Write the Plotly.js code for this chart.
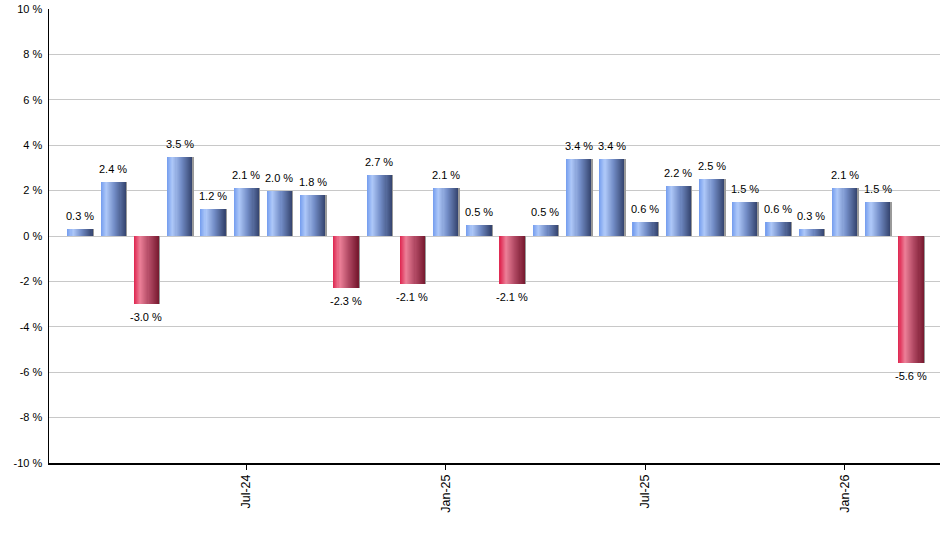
<!DOCTYPE html>
<html>
<head>
<meta charset="utf-8">
<script src="https://cdn.plot.ly/plotly-3.0.1.min.js"></script>
<style>
  html, body { margin: 0; padding: 0; background: #fff; }
  #chart { width: 940px; height: 550px; }
</style>
</head>
<body>
<div id="chart"></div>
<script>
// Monthly returns, Feb-24 .. Mar-26
const months = ['Feb-24', 'Mar-24', 'Apr-24', 'May-24', 'Jun-24', 'Jul-24', 'Aug-24', 'Sep-24', 'Oct-24',
    'Nov-24', 'Dec-24', 'Jan-25', 'Feb-25', 'Mar-25', 'Apr-25', 'May-25', 'Jun-25', 'Jul-25', 'Aug-25',
    'Sep-25', 'Oct-25', 'Nov-25', 'Dec-25', 'Jan-26', 'Feb-26', 'Mar-26'];
const returns = [0.3, 2.4, -3.0, 3.5, 1.2, 2.1, 2.0, 1.8, -2.3, 2.7, -2.1, 2.1, 0.5, -2.1,
    0.5, 3.4, 3.4, 0.6, 2.2, 2.5, 1.5, 0.6, 0.3, 2.1, 1.5, -5.6];
const tickMonths = ['Jul-24', 'Jan-25', 'Jul-25', 'Jan-26'];
const yTicks = [-10, -8, -6, -4, -2, 0, 2, 4, 6, 8, 10];

// Gradient stops across a bar (left -> right), for up and down months
const upStops = [[0, [116, 156, 238]], [0.22, [174, 200, 248]], [0.55, [116, 142, 200]], [1, [52, 68, 110]]];
const downStops = [[0, [222, 36, 78]], [0.25, [236, 128, 152]], [0.6, [178, 74, 100]], [1, [118, 24, 46]]];

function lerpColor(stops, t) {
    for (let i = 1; i < stops.length; i++) {
        if (t <= stops[i][0]) {
            const [t0, c0] = stops[i - 1];
            const [t1, c1] = stops[i];
            const f = (t - t0) / (t1 - t0);
            const c = c0.map((v, k) => Math.round(v + (c1[k] - v) * f));
            return `rgb(${c[0]},${c[1]},${c[2]})`;
        }
    }
    const c = stops[stops.length - 1][1];
    return `rgb(${c[0]},${c[1]},${c[2]})`;
}

const x = months.map((_, i) => i);
const barWidth = 0.76;
const slices = 24;
const sliceW = barWidth / slices;
const traces = [];

// right-hand shadow edge (drawn first, bars paint over it)
traces.push({
    type: 'bar',
    x: x,
    y: returns,
    offset: barWidth / 2 - 0.02,
    width: 0.06,
    marker: {color: '#9a9a9a', line: {width: 0}},
    hoverinfo: 'skip',
    showlegend: false
});

// Each bar is built from thin vertical slices so it gets the shaded look
for (let s = 0; s < slices; s++) {
    const t = (s + 0.5) / slices;
    const last = s === slices - 1;
    traces.push({
        type: 'bar',
        x: x,
        y: returns,
        offset: -barWidth / 2 + s * sliceW,
        width: last ? sliceW : sliceW * 1.8,
        marker: {
            color: returns.map(v => lerpColor(v >= 0 ? upStops : downStops, t)),
            line: {width: 0}
        },
        hoverinfo: 'skip',
        showlegend: false
    });
}

// value labels
const labels = returns.map((v, i) => ({
    x: i,
    y: v,
    text: v.toFixed(1) + ' %',
    showarrow: false,
    yanchor: 'middle',
    yshift: v >= 0 ? 13 : -13,
    font: {family: 'Liberation Sans, Arial, sans-serif', size: 11, color: '#000'}
}));

const layout = {
    width: 940,
    height: 550,
    margin: {l: 49, r: 0, t: 9, b: 87},
    paper_bgcolor: '#fff',
    plot_bgcolor: '#fff',
    barmode: 'overlay',
    bargap: 0,
    font: {family: 'Liberation Sans, Arial, sans-serif', size: 11, color: '#000'},
    annotations: labels,
    xaxis: {
        range: [-0.93, 25.87],
        showgrid: false,
        zeroline: false,
        showline: true,
        linecolor: '#000',
        linewidth: 1.5,
        ticks: 'outside',
        ticklen: 5,
        tickcolor: '#000',
        tickvals: tickMonths.map(m => months.indexOf(m)),
        ticktext: tickMonths,
        tickangle: -90,
        tickfont: {size: 12.5},
        fixedrange: true
    },
    yaxis: {
        range: [-10, 10],
        tickvals: yTicks,
        ticktext: yTicks.map(v => v + ' %'),
        showgrid: true,
        gridcolor: '#c8c8c8',
        zeroline: false,
        showline: true,
        linecolor: '#000',
        linewidth: 1.5,
        ticks: '',
        ticklabelstandoff: 3,
        fixedrange: true
    }
};

Plotly.newPlot('chart', traces, layout, {displayModeBar: false, staticPlot: true});
</script>
</body>
</html>
